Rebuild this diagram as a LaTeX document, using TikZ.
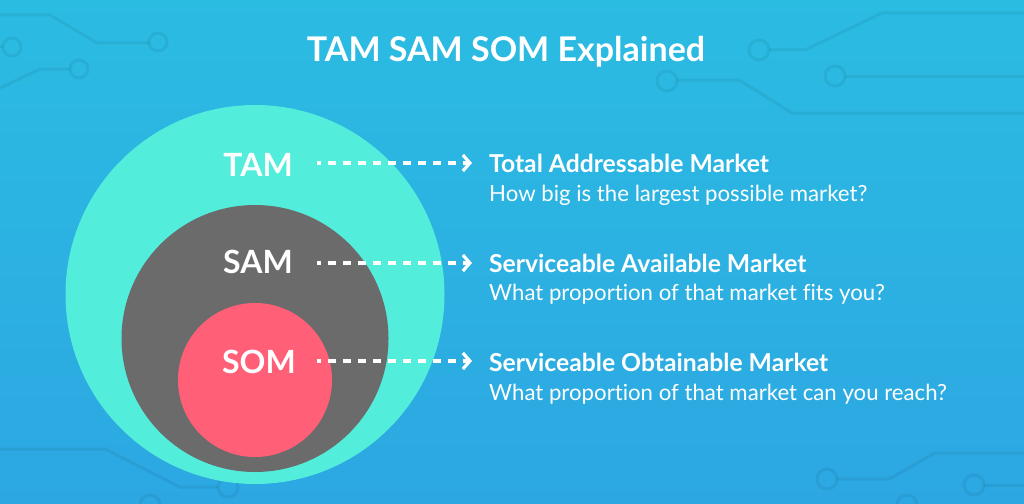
\documentclass[tikz,border=0pt]{standalone}
\usepackage{fontspec}
\setmainfont{Lato}[Ligatures=NoCommon]
\usetikzlibrary{arrows.meta}
\definecolor{bgtop}{RGB}{43,188,226}
\definecolor{bgbot}{RGB}{44,167,226}
\definecolor{tamc}{RGB}{83,237,220}
\definecolor{samc}{RGB}{107,107,107}
\definecolor{somc}{RGB}{255,96,119}
\tikzset{
  circuit/.style={line width=3pt, draw=black, draw opacity=0.06},
  pad/.style={circuit},
  lbl/.style={text=white, font=\bfseries\fontsize{32}{34}\selectfont, inner sep=0pt, anchor=base},
  head/.style={text=white, font=\bfseries\fontsize{24.7}{27}\selectfont, inner sep=0pt, anchor=base west},
  sub/.style={text=white, font=\fontsize{22.2}{24}\selectfont, inner sep=0pt, anchor=base west},
  arr/.style={white, line width=3.4pt, dash pattern=on 8pt off 7pt, dash phase=4pt,
    -{Straight Barb[length=7pt,width=16pt,line width=3.2pt]}},
  disc/.style={circle, inner sep=0pt, minimum size=#1}
}
\begin{document}
\begin{tikzpicture}[x=1pt,y=-1pt]
\shade[top color=bgtop, bottom color=bgbot] (0,0) rectangle (1024,503);
\useasboundingbox (0,0) rectangle (1024,503);
% circuit lines, top left
\draw[circuit] (0,15) -- (50,15) -- (97,43) -- (149,43);
\draw[pad] (158,42) circle[radius=9];
\draw[circuit] (0,47) -- (3,47);
\draw[pad] (12,47) circle[radius=9];
\draw[circuit] (0,88) -- (40,69) -- (70,69);
\draw[pad] (79,69) circle[radius=9];
% top right
\draw[pad] (759,50) circle[radius=10];
\draw[circuit] (769,50) -- (805,50) -- (882,13) -- (1024,13);
\draw[pad] (835,76) circle[radius=10];
\draw[circuit] (845,76) -- (1024,76);
\draw[pad] (667,81) circle[radius=10];
\draw[circuit] (677,80) -- (739,80) -- (792,113) -- (1024,113);
% bottom left
\draw[circuit] (0,449) -- (105,449) -- (180,487) -- (218,487);
\draw[pad] (228,487) circle[radius=10];
\draw[pad] (150,505) circle[radius=10];
% bottom right
\draw[pad] (827,479) circle[radius=10];
\draw[circuit] (837,479) -- (889,479) -- (935,453) -- (1024,453);
\draw[pad] (974,485) circle[radius=10];
\draw[circuit] (984,485) -- (1024,485);
\draw[pad] (907,505) circle[radius=10];
% circles
\node[disc=379pt, fill=tamc] (tamdisc) at (255,294.5) {};
\node[disc=267pt, fill=samc] (samdisc) at (255,338.5) {};
\node[disc=154pt, fill=somc] (somdisc) at (255,380) {};
% title
\node[text=white, font=\bfseries\fontsize{34}{36}\selectfont, inner sep=0pt, anchor=base] (title) at (506,61) {TAM SAM SOM Explained};
% labels
\node[lbl] (tam) at (258,176) {TAM};
\node[lbl] (sam) at (258,273) {SAM};
\node[lbl] (som) at (259,373) {SOM};
% right texts
\node[head] (tamh) at (489,172) {Total Addressable Market};
\node[sub] (tams) at (489,201) {How big is the largest possible market?};
\node[head] (samh) at (489,272) {Serviceable Available Market};
\node[sub] (sams) at (489,300) {What proportion of that market fits you?};
\node[head] (somh) at (489,371) {Serviceable Obtainable Market};
\node[sub] (soms) at (489,400) {What proportion of that market can you reach?};
% arrows
\coordinate (a1s) at (317,163);
\coordinate (a1e) at (472,163);
\coordinate (a2s) at (317,263);
\coordinate (a2e) at (472,263);
\coordinate (a3s) at (317,361);
\coordinate (a3e) at (472,361);
\draw[arr] (a1s) -- (a1e);
\draw[arr] (a2s) -- (a2e);
\draw[arr] (a3s) -- (a3e);
\end{tikzpicture}
\end{document}
